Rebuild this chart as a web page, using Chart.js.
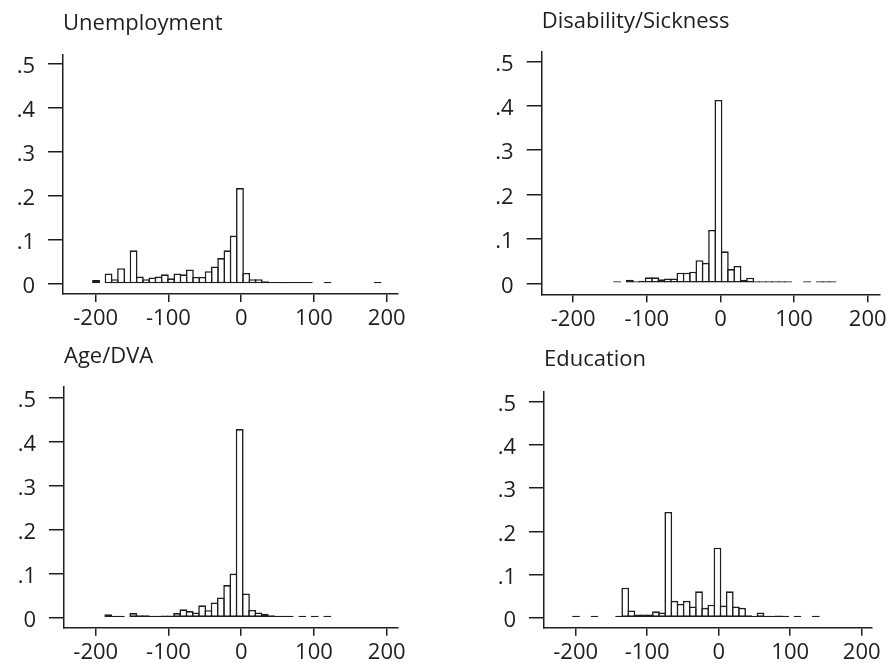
<!DOCTYPE html>
<html>
<head>
<meta charset="utf-8">
<script src="https://cdn.jsdelivr.net/npm/chart.js@4/dist/chart.umd.min.js"></script>
<style>
  html, body { margin: 0; padding: 0; background: #fff; }
  #wrap { position: relative; width: 891px; height: 663px; overflow: hidden; }
  canvas { position: absolute; }
</style>
</head>
<body>
<div id="wrap">
  <canvas id="unemp" style="left:0;top:0;width:450px;height:332px" width="450" height="332"></canvas>
  <canvas id="disab" style="left:450px;top:0;width:441px;height:332px" width="441" height="332"></canvas>
  <canvas id="agedva" style="left:0;top:332px;width:450px;height:331px" width="450" height="331"></canvas>
  <canvas id="educ" style="left:450px;top:332px;width:441px;height:331px" width="441" height="331"></canvas>
</div>
<script>
// Axis ticks shared by all four histograms
const xTickValues = [-200, -100, 0, 100, 200];
const xTickLabels = ['-200', '-100', '0', '100', '200'];
const yTickValues = [0, 0.1, 0.2, 0.3, 0.4, 0.5];
const yTickLabels = ['0', '.1', '.2', '.3', '.4', '.5'];

// Histogram bin width (same for every panel)
const binWidth = 8.6;

// Unemployment: left edge of first bin and density per bin (null = empty bin)
const unemploymentStart = -203.8;
const unemploymentDensity = [
  0.009, null, 0.024, 0.011, 0.036, 0.002, 0.0765, 0.017, 0.011, 0.015,
  0.017, 0.022, 0.013, 0.024, 0.022, 0.033, 0.016, 0.016, 0.029, 0.040,
  0.059, 0.0765, 0.110, 0.218, 0.025, 0.011, 0.011, 0.006, 0.002, 0.002,
  0.003, 0.002, 0.002, 0.002, 0.003, null, null, 0.001, null, null,
  null, null, null, null, null, 0.001
];

// Disability/Sickness
const disabilityStart = -144.6;
const disabilityDensity = [
  0.001, null, 0.008, 0.004, 0.006, 0.0135, 0.0135, 0.009, 0.011, 0.011,
  0.024, 0.024, 0.026, 0.052, 0.046, 0.120, 0.413, 0.072, 0.032, 0.039,
  0.008, 0.0125, 0.003, 0.002, 0.0015, 0.0015, 0.002, 0.003, null, null,
  0.001, null, 0.001, 0.001, 0.001
];

// Age/DVA
const ageStart = -187.0;
const ageDensity = [
  0.008, 0.0015, 0.0015, null, 0.0105, 0.0055, 0.0055, 0.0035, 0.0035, 0.005,
  0.005, 0.0105, 0.019, 0.015, 0.012, 0.028, 0.017, 0.0345, 0.046, 0.074,
  0.100, 0.428, 0.055, 0.0175, 0.012, 0.009, 0.0055, 0.0025, 0.0015, 0.0015,
  null, 0.001, null, 0.001, null, 0.002
];

// Education
const educationStart = -203.8;
const educationDensity = [
  0.001, null, null, 0.001, null, null, null, 0.001, 0.0695, 0.017,
  0.0077, 0.0077, 0.0077, 0.0147, 0.0123, 0.245, 0.039, 0.032, 0.039, 0.026,
  0.061, 0.023, 0.030, 0.162, 0.028, 0.061, 0.026, 0.023, 0.006, 0.0025,
  0.012, 0.002, 0.002, 0.0054, 0.0015, null, 0.002, null, null, 0.001
];

const ink = '#1e1e1e';
const lineInk = '#1e1e1e';
Chart.defaults.font.family = "'Open Sans', sans-serif";

function binsToPoints(start, values) {
  return values.map((v, i) => ({ x: start + binWidth * (i + 0.5), y: v }));
}

// Plot-area geometry (canvas pixels) and axis ranges for each panel
const panels = [
  { id: 'unemp', title: 'Unemployment', start: unemploymentStart, values: unemploymentDensity,
    area: { left: 63, top: 55, right: 398, bottom: 294 }, titleMid: 23.5,
    x: [-244.9, 215.5], y: [-0.0227, 0.5205] },
  { id: 'disab', title: 'Disability/Sickness', start: disabilityStart, values: disabilityDensity,
    area: { left: 91.7, top: 52, right: 431, bottom: 294.3 }, titleMid: 22,
    x: [-242.7, 216.2], y: [-0.0248, 0.521] },
  { id: 'agedva', title: 'Age/DVA', start: ageStart, values: ageDensity,
    area: { left: 64, top: 55, right: 398, bottom: 295.7 }, titleMid: 25,
    x: [-243.6, 215.5], y: [-0.0227, 0.5234] },
  { id: 'educ', title: 'Education', start: educationStart, values: educationDensity,
    area: { left: 94, top: 60, right: 422, bottom: 295.7 }, titleMid: 28,
    x: [-244.3, 214.4], y: [-0.0231, 0.5225] }
];

const titleSize = 22, titleLH = 1.2;

panels.forEach(p => {
  const canvas = document.getElementById(p.id);
  const W = canvas.width, H = canvas.height;
  const g = p.area;
  const titleBox = titleSize * titleLH;
  const tPadTop = p.titleMid - titleBox / 2;
  const tPadBottom = g.top - tPadTop - titleBox;
  const pxPerBin = binWidth * (g.right - g.left) / (p.x[1] - p.x[0]);
  const borderW = 1.6;

  new Chart(canvas.getContext('2d'), {
    type: 'bar',
    data: {
      datasets: [{
        data: binsToPoints(p.start, p.values),
        backgroundColor: '#ffffff',
        borderColor: lineInk,
        borderWidth: borderW,
        borderSkipped: false,
        minBarLength: 2,
        categoryPercentage: 1,
        barPercentage: 1 + borderW / pxPerBin
      }]
    },
    options: {
      responsive: false,
      animation: false,
      events: [],
      layout: { padding: { left: 0, top: 0, right: W - g.right, bottom: 0 } },
      plugins: {
        legend: { display: false },
        tooltip: { enabled: false },
        title: {
          display: true, text: p.title, align: 'start', fullSize: false, color: ink,
          font: { size: titleSize, lineHeight: titleLH, weight: 'normal' },
          padding: { top: tPadTop, bottom: tPadBottom }
        }
      },
      scales: {
        x: {
          type: 'linear', min: p.x[0], max: p.x[1], offset: false,
          afterFit: s => { s.height = H - g.bottom; },
          afterBuildTicks: s => { s.ticks = xTickValues.map(v => ({ value: v })); },
          ticks: {
            callback: (v, i) => xTickLabels[i], autoSkip: false, maxRotation: 0,
            padding: 4, color: ink, font: { size: 22 }
          },
          grid: { drawOnChartArea: false, drawTicks: true, tickLength: 8, color: lineInk, lineWidth: 1.5, offset: false },
          border: { display: true, color: lineInk, width: 1.5 }
        },
        y: {
          type: 'linear', min: p.y[0], max: p.y[1],
          afterFit: s => { s.width = g.left; },
          afterBuildTicks: s => { s.ticks = yTickValues.map(v => ({ value: v })); },
          ticks: {
            callback: (v, i) => yTickLabels[i], autoSkip: false,
            padding: 13, labelOffset: 3, color: ink, font: { size: 22 }
          },
          grid: { drawOnChartArea: false, drawTicks: true, tickLength: 15, color: lineInk, lineWidth: 1.5 },
          border: { display: true, color: lineInk, width: 1.5 }
        }
      }
    }
  });
});
</script>
</body>
</html>
